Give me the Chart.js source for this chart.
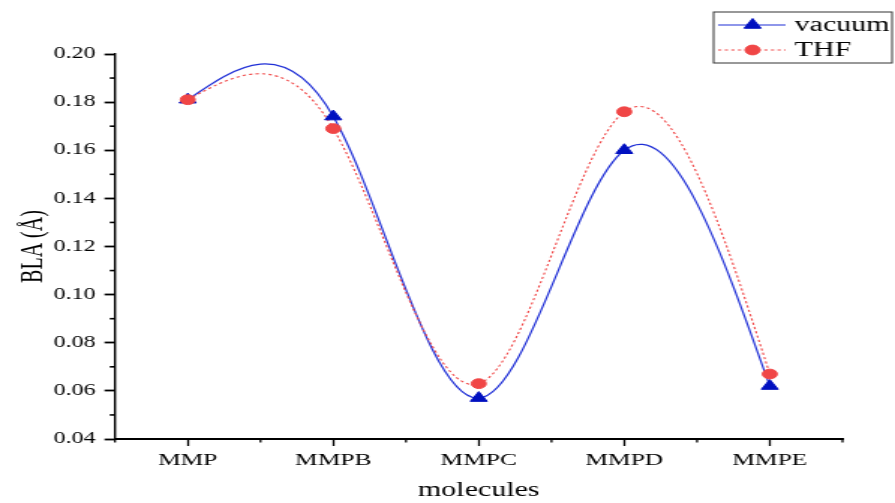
<!DOCTYPE html>
<html>
<head>
<meta charset="utf-8">
<script src="https://cdn.jsdelivr.net/npm/chart.js@4"></script>
<style>
  html, body { margin: 0; padding: 0; background: #fff; }
  #c { display: block; width: 895px; height: 503px; }
</style>
</head>
<body>
<canvas id="c" width="597" height="503" style="width:895px;height:503px"></canvas>
<script>
// ---- data ----
const categories = ['MMP', 'MMPB', 'MMPC', 'MMPD', 'MMPE'];
const vacuum = [0.181, 0.174, 0.057, 0.160, 0.062];
const thf = [0.181, 0.169, 0.063, 0.176, 0.067];
const seriesNames = ['vacuum', 'THF'];
const yMin = 0.04, yMax = 0.20, yStep = 0.02;
const xTitle = 'molecules';
const yTitle = 'BLA (Å)';

const FONT = "'Liberation Serif', 'Times New Roman', serif";
const BLUE_LINE = '#1f2fd6';
const BLUE_MARK = '#0010c0';
const RED = '#f04646';

// natural cubic spline through pixel points -> bezier segments
function splinePath(ctx, pts) {
  const n = pts.length - 1;
  if (n < 1) return;
  const h = [], M = new Array(n + 1).fill(0);
  for (let i = 0; i < n; i++) h.push(pts[i + 1].x - pts[i].x);
  if (n > 1) {
    const a = [], b = [], c = [], d = [];
    for (let i = 1; i < n; i++) {
      a.push(h[i - 1]); b.push(2 * (h[i - 1] + h[i])); c.push(h[i]);
      d.push(6 * ((pts[i + 1].y - pts[i].y) / h[i] - (pts[i].y - pts[i - 1].y) / h[i - 1]));
    }
    const m = b.length;
    for (let i = 1; i < m; i++) {
      const w = a[i] / b[i - 1];
      b[i] -= w * c[i - 1]; d[i] -= w * d[i - 1];
    }
    const sol = new Array(m);
    sol[m - 1] = d[m - 1] / b[m - 1];
    for (let i = m - 2; i >= 0; i--) sol[i] = (d[i] - c[i] * sol[i + 1]) / b[i];
    for (let i = 1; i < n; i++) M[i] = sol[i - 1];
  }
  const der = [];
  for (let i = 0; i < n; i++) der.push((pts[i + 1].y - pts[i].y) / h[i] - h[i] * (2 * M[i] + M[i + 1]) / 6);
  der.push((pts[n].y - pts[n - 1].y) / h[n - 1] + h[n - 1] * (M[n - 1] + 2 * M[n]) / 6);
  ctx.moveTo(pts[0].x, pts[0].y);
  for (let i = 0; i < n; i++) {
    const hh = h[i] / 3;
    ctx.bezierCurveTo(pts[i].x + hh, pts[i].y + der[i] * hh,
                      pts[i + 1].x - hh, pts[i + 1].y - der[i + 1] * hh,
                      pts[i + 1].x, pts[i + 1].y);
  }
}

const splinePlugin = {
  id: 'spline',
  beforeDatasetsDraw(chart) {
    const ctx = chart.ctx;
    chart.data.datasets.forEach((ds, di) => {
      const meta = chart.getDatasetMeta(di);
      const pts = meta.data.map(p => ({ x: p.x, y: p.y }));
      ctx.save();
      ctx.beginPath();
      splinePath(ctx, pts);
      ctx.strokeStyle = ds.splineColor;
      ctx.lineWidth = ds.splineWidth;
      ctx.setLineDash(ds.splineDash || []);
      ctx.stroke();
      ctx.restore();
    });
  }
};

const minorTicksPlugin = {
  id: 'minorTicks',
  afterDraw(chart) {
    const ctx = chart.ctx;
    const ys = chart.scales.y, xs = chart.scales.x;
    ctx.save();
    ctx.strokeStyle = '#000';
    ctx.lineWidth = 1.6;
    for (let v = yMin + yStep / 2; v < yMax; v += yStep) {
      const py = ys.getPixelForValue(v);
      ctx.beginPath(); ctx.moveTo(ys.right - 3.5, py); ctx.lineTo(ys.right, py); ctx.stroke();
    }
    ctx.lineWidth = 1.3;
    for (let i = -0.5; i <= categories.length - 0.5; i += 1) {
      const px = xs.getPixelForValue(i);
      ctx.beginPath(); ctx.moveTo(px, xs.top); ctx.lineTo(px, xs.top + 3.5); ctx.stroke();
    }
    ctx.restore();
  }
};

const legendPlugin = {
  id: 'customLegend',
  afterDraw(chart) {
    const ctx = chart.ctx;
    const W = chart.width;
    const bx = W - 121, by = 12, bw = 119, bh = 51;
    ctx.save();
    ctx.strokeStyle = '#333';
    ctx.lineWidth = 1;
    ctx.strokeRect(bx, by, bw, bh);
    const rows = [
      { y: by + 13, ds: chart.data.datasets[0] },
      { y: by + 38, ds: chart.data.datasets[1] }
    ];
    rows.forEach(r => {
      const ds = r.ds;
      const cx = bx + 26;
      ctx.beginPath();
      ctx.strokeStyle = ds.splineColor;
      ctx.lineWidth = ds.splineWidth;
      ctx.setLineDash(ds.splineDash || []);
      ctx.moveTo(bx + 3, r.y); ctx.lineTo(bx + 48, r.y); ctx.stroke();
      ctx.setLineDash([]);
      ctx.fillStyle = ds.pointBackgroundColor;
      ctx.strokeStyle = ds.pointBorderColor;
      ctx.lineWidth = 1;
      ctx.beginPath();
      if (ds.pointStyle === 'triangle') {
        const rad = ds.pointRadius;
        let a = 0;
        ctx.moveTo(cx + Math.sin(a) * rad, r.y - Math.cos(a) * rad);
        a += 2 * Math.PI / 3;
        ctx.lineTo(cx + Math.sin(a) * rad, r.y - Math.cos(a) * rad);
        a += 2 * Math.PI / 3;
        ctx.lineTo(cx + Math.sin(a) * rad, r.y - Math.cos(a) * rad);
        ctx.closePath();
      } else {
        ctx.arc(cx, r.y, ds.pointRadius, 0, Math.PI * 2);
      }
      ctx.fill(); ctx.stroke();
      ctx.fillStyle = '#000';
      ctx.font = '20px ' + FONT;
      ctx.textBaseline = 'middle';
      ctx.textAlign = 'left';
      ctx.fillText(ds.label, bx + 54, r.y + 1);
    });
    ctx.restore();
  }
};

new Chart(document.getElementById('c'), {
  type: 'line',
  data: {
    labels: categories,
    datasets: [
      {
        label: seriesNames[0], data: vacuum, order: 1, showLine: false,
        pointStyle: 'triangle', pointRadius: 6.5, pointHoverRadius: 6.5,
        pointBackgroundColor: BLUE_MARK, pointBorderColor: BLUE_MARK, pointBorderWidth: 1,
        borderColor: BLUE_LINE, backgroundColor: BLUE_MARK,
        splineColor: BLUE_LINE, splineWidth: 1.2, splineDash: []
      },
      {
        label: seriesNames[1], data: thf, order: 0, showLine: false,
        pointStyle: 'circle', pointRadius: 4.9, pointHoverRadius: 4.9,
        pointBackgroundColor: RED, pointBorderColor: RED, pointBorderWidth: 1,
        borderColor: RED, backgroundColor: RED,
        splineColor: RED, splineWidth: 1.1, splineDash: [2.2, 2.2]
      }
    ]
  },
  options: {
    responsive: false,
    animation: false,
    devicePixelRatio: 1,
    layout: { padding: { top: 54, right: 35, bottom: 0, left: 0 } },
    plugins: { legend: { display: false }, tooltip: { enabled: false } },
    events: [],
    scales: {
      x: {
        type: 'category',
        offset: true,
        afterFit(s) { s.height = 64; },
        border: { display: true, color: '#000', width: 2 },
        grid: { display: true, drawOnChartArea: false, drawTicks: true, tickLength: 7, tickColor: '#000', tickWidth: 1.3, offset: false },
        ticks: { color: '#000', font: { family: FONT, size: 17 }, padding: 4, maxRotation: 0, autoSkip: false },
        title: { display: true, text: xTitle, color: '#000', font: { family: FONT, size: 20 }, padding: { top: 0, bottom: 0 } }
      },
      y: {
        min: yMin, max: yMax,
        afterFit(s) { s.width = 76.7; },
        border: { display: true, color: '#000', width: 1.4 },
        grid: { display: true, drawOnChartArea: false, drawTicks: true, tickLength: 7, tickColor: '#000', tickWidth: 1.8 },
        ticks: { stepSize: yStep, color: '#000', font: { family: FONT, size: 16 }, padding: 6,
                 callback: v => Number(v).toFixed(2) },
        title: { display: true, text: yTitle, color: '#000', font: { family: FONT, size: 20 }, padding: { top: 11, bottom: 0 } }
      }
    }
  },
  plugins: [splinePlugin, minorTicksPlugin, legendPlugin]
});
</script>
</body>
</html>
